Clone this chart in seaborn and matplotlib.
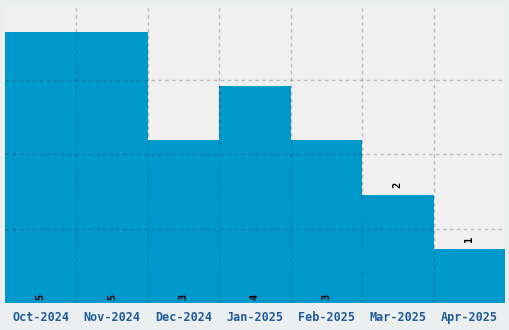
import matplotlib
matplotlib.use("Agg")
import matplotlib.pyplot as plt
import seaborn as sns
import numpy as np

months = ["Oct-2024", "Nov-2024", "Dec-2024", "Jan-2025", "Feb-2025", "Mar-2025", "Apr-2025"]
counts = [5, 5, 3, 4, 3, 2, 1]

sns.set_theme(style="white")
plt.rcParams['font.family'] = ['DejaVu Sans Mono']

fig = plt.figure(figsize=(5.1, 3.3), dpi=100, facecolor="#eceff0")
ax = fig.add_axes([5/510, 27/330, 500/510, 298/330])
ax.set_facecolor("#f0f0f0")

sns.barplot(x=months, y=counts, color="#0099cc", saturation=1, width=1.0, ax=ax, edgecolor="none", linewidth=0)

ymax = max(counts) * 1.1
ax.set_ylim(0, ymax)
ax.set_xlim(-0.5, len(months) - 0.5)
ax.set_yticks([ymax * f for f in (0.25, 0.5, 0.75)])
ax.set_yticklabels([])
ax.set_xticks(np.arange(0.5, len(months) - 1, 1.0), minor=True)
ax.tick_params(axis="x", which="both", length=0, pad=6)
ax.tick_params(axis="y", length=0)
for lab in ax.get_xticklabels():
    lab.set_fontweight("bold")
    lab.set_fontsize(8.5)
    lab.set_color("#1f5c99")
ax.set_axisbelow(False)
ax.grid(False)
ax.yaxis.grid(True, color="#000000", alpha=0.22, linestyle=(0, (2.5, 2.5)), linewidth=1)
ax.xaxis.grid(True, which="minor", color="#000000", alpha=0.22, linestyle=(0, (2.5, 2.5)), linewidth=1)
for s in ax.spines.values():
    s.set_visible(False)
ax.set_xlabel("")
ax.set_ylabel("")

for p, v in zip(ax.patches, counts):
    x = p.get_x() + p.get_width() / 2
    h = p.get_height()
    if v >= 3:
        ax.annotate(str(v), (x, 0), xytext=(0, 2.5), textcoords="offset points",
                    ha="center", va="bottom", rotation=90, fontsize=7.5,
                    fontweight="bold", color="black")
    else:
        ax.annotate(str(v), (x, h), xytext=(0, 5), textcoords="offset points",
                    ha="center", va="bottom", rotation=90, fontsize=7.5,
                    fontweight="bold", color="black")

fig.savefig("out.png", dpi=100, facecolor=fig.get_facecolor())
